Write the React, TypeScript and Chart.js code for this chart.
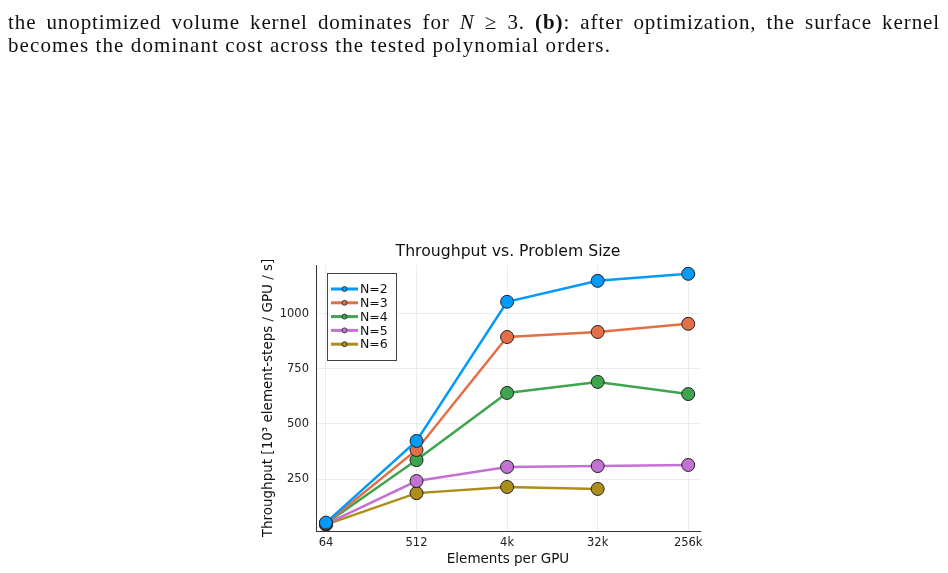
import React, { useEffect, useRef } from "react";
import { Chart, registerables } from "chart.js";

Chart.register(...registerables);

const categories = ["64", "512", "4k", "32k", "256k"];
const seriesNames = ["N=2", "N=3", "N=4", "N=5", "N=6"];
const n2 = [52, 423, 1055, 1150, 1182];
const n3 = [48, 382, 895, 918, 955];
const n4 = [48, 336, 641, 691, 636];
const n5 = [45, 241, 305, 309, 314];
const n6 = [43, 186, 214, 205];
const yTicks = [250, 500, 750, 1000];
const colors = ["#009AFA", "#E36F47", "#3EA44E", "#C371D2", "#AC8E18"];

const FONT = "'DejaVu Sans', sans-serif";

export default function App() {
  const ref = useRef<HTMLCanvasElement | null>(null);
  useEffect(() => {
    const all = [n2, n3, n4, n5, n6];
    const datasets = all.map((arr, i) => ({
      label: seriesNames[i],
      data: arr.map((v, j) => ({ x: j, y: v })),
      borderColor: colors[i],
      backgroundColor: colors[i],
      pointBackgroundColor: colors[i],
      pointBorderColor: "#222",
      pointBorderWidth: 1,
      pointRadius: 6.5,
      borderWidth: 2.5,
      tension: 0,
    }));
    const overlay = {
      id: "overlay",
      afterDraw(chart: any) {
        const ctx = chart.ctx;
        const a = chart.chartArea;
        ctx.save();
        ctx.fillStyle = "#111";
        ctx.font = `15.7px ${FONT}`;
        ctx.textAlign = "center";
        ctx.textBaseline = "middle";
        ctx.fillText("Throughput vs. Problem Size", (a.left + a.right) / 2, 252);
        // legend
        const lx = 327, ly = 273, lw = 69, lh = 87;
        ctx.fillStyle = "#fff";
        ctx.fillRect(lx, ly, lw, lh);
        ctx.strokeStyle = "#444";
        ctx.lineWidth = 1;
        ctx.strokeRect(lx + 0.5, ly + 0.5, lw, lh);
        ctx.font = `12.5px ${FONT}`;
        ctx.textAlign = "left";
        for (let i = 0; i < seriesNames.length; i++) {
          const y = 289 + i * 13.8;
          ctx.strokeStyle = colors[i];
          ctx.lineWidth = 3;
          ctx.beginPath();
          ctx.moveTo(331, y);
          ctx.lineTo(358, y);
          ctx.stroke();
          ctx.beginPath();
          ctx.arc(344.5, y, 2.5, 0, Math.PI * 2);
          ctx.fillStyle = colors[i];
          ctx.fill();
          ctx.strokeStyle = "#222";
          ctx.lineWidth = 0.8;
          ctx.stroke();
          ctx.fillStyle = "#111";
          ctx.fillText(seriesNames[i], 360, y + 1);
        }
        ctx.restore();
      },
    };
    const chart = new Chart(ref.current as HTMLCanvasElement, {
      type: "line",
      data: { datasets },
      plugins: [overlay],
      options: {
        animation: false,
        responsive: false,
        maintainAspectRatio: false,
        layout: { padding: { left: 260, right: 248, top: 265, bottom: 2 } },
        plugins: { legend: { display: false }, tooltip: { enabled: false } },
        scales: {
          x: {
            type: "linear",
            min: -0.11,
            max: 4.13,
            afterBuildTicks: (s: any) => {
              s.ticks = categories.map((_, i) => ({ value: i }));
            },
            afterFit: (s: any) => {
              s.height = 40;
            },
            ticks: {
              callback: (v: any) => categories[v as number],
              font: { family: FONT, size: 11.5 },
              color: "#222",
              padding: 5,
              maxRotation: 0,
            },
            grid: { color: "rgba(0,0,0,0.07)", drawTicks: false },
            border: { color: "#333", width: 1 },
            title: {
              display: true,
              text: "Elements per GPU",
              font: { family: FONT, size: 13.5 },
              color: "#111",
              padding: { top: 2, bottom: 3 },
            },
          },
          y: {
            type: "linear",
            min: 14,
            max: 1222,
            afterBuildTicks: (s: any) => {
              s.ticks = yTicks.map((v) => ({ value: v }));
            },
            afterFit: (s: any) => {
              s.width = 56;
            },
            ticks: {
              callback: (v: any) => String(v),
              font: { family: FONT, size: 11.5 },
              color: "#222",
              padding: 7,
            },
            grid: { color: "rgba(0,0,0,0.07)", drawTicks: false },
            border: { color: "#333", width: 1 },
            title: {
              display: true,
              text: "Throughput [10³ element-steps / GPU / s]",
              font: { family: FONT, size: 13.5 },
              color: "#111",
              padding: { top: 0, bottom: 0 },
            },
          },
        },
      },
    });
    return () => chart.destroy();
  }, []);
  const cap = {
    fontFamily: "'Liberation Serif', 'DejaVu Serif', serif",
    fontSize: 21,
    lineHeight: "23px",
    color: "#111",
    letterSpacing: "1.1px",
    whiteSpace: "nowrap" as const,
  };
  return (
    <div style={{ position: "fixed", left: 0, top: 0, width: 948, height: 573, background: "#fff" }}>
      <canvas ref={ref} width={948} height={573} style={{ position: "absolute", left: 0, top: 0 }} />
      <div style={{ position: "absolute", left: 8, top: 11, width: 932 }}>
        <div style={{ ...cap, whiteSpace: "normal", textAlign: "justify", textAlignLast: "justify", letterSpacing: "0.9px" }}>
          the unoptimized volume kernel dominates for <i>N</i> ≥ 3. <b>(b)</b>: after optimization, the surface kernel
        </div>
        <div style={cap}>becomes the dominant cost across the tested polynomial orders.</div>
      </div>
    </div>
  );
}
